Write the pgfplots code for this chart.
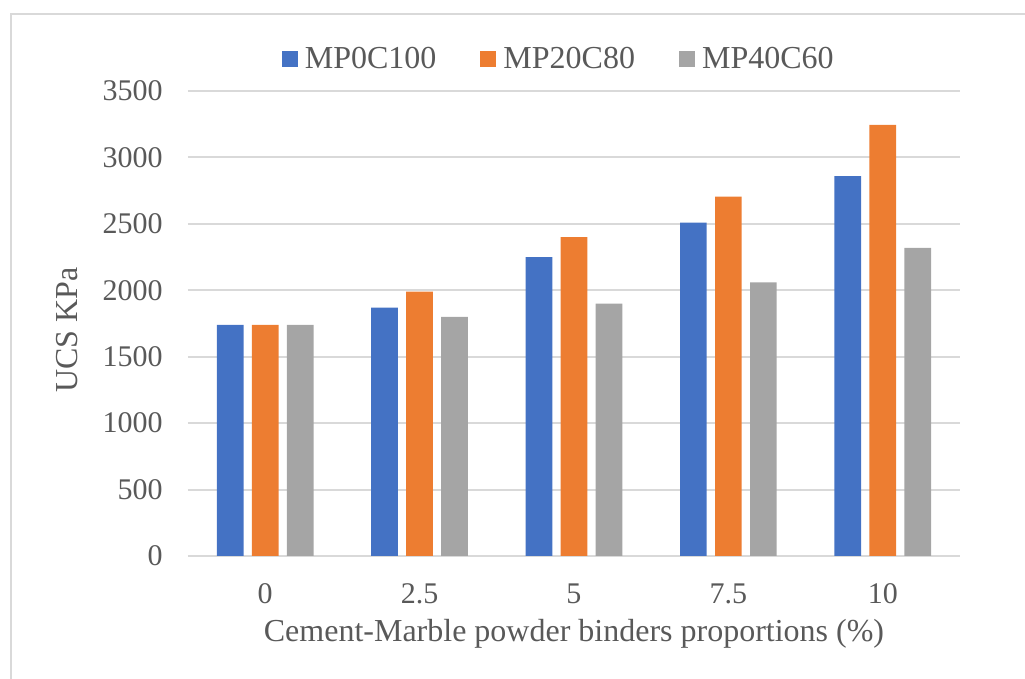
\documentclass[border=0pt]{standalone}
\usepackage{pgfplots}
\pgfplotsset{compat=1.18}
\usepackage{fontspec}
\setmainfont{Liberation Serif}

\definecolor{cblue}{HTML}{4472C4}
\definecolor{corange}{HTML}{ED7D31}
\definecolor{cgrey}{HTML}{A5A5A5}
\definecolor{txt}{HTML}{595959}
\definecolor{gridc}{HTML}{D9D9D9}

\pgfplotsset{
  sq legend/.style={legend image code/.code={\fill[##1] (0pt,-4pt) rectangle (8pt,4pt);}},
}

\begin{document}
\begin{tikzpicture}
\useasboundingbox (0,0) rectangle (512.5pt,-339.5pt);
\clip (0,0) rectangle (512.5pt,-339.5pt);
% chart frame
\draw[gridc, line width=1pt] (5.25pt,-7.25pt) rectangle (530pt,-360pt);
\begin{axis}[
  at={(94pt,-278pt)}, anchor=south west,
  scale only axis, width=386pt, height=232.5pt,
  xmin=-0.5, xmax=4.5, ymin=0, ymax=3500,
  xtick={0,...,4}, xticklabels={0,2.5,5,7.5,10},
  ytick={0,500,...,3500},
  ybar=4.15pt, bar width=13.35pt,
  axis line style={draw=none},
  major tick length=0pt,
  ymajorgrids, grid style={gridc, line width=1pt},
  /pgf/number format/assume math mode=true,
  /pgf/number format/1000 sep={},
  tick label style={font=\rmfamily\fontsize{15pt}{18pt}\selectfont, text=txt},
  yticklabel style={anchor=east, inner sep=0pt, xshift=-12.5pt},
  xticklabel style={anchor=north, inner sep=0pt, yshift=-13.5pt},
  xlabel={Cement-Marble powder binders proportions (\%)},
  ylabel={UCS KPa},
  xlabel style={at={(axis description cs:0.5,-0.168)}, anchor=center,
    font=\rmfamily\fontsize{16pt}{19pt}\selectfont, text=txt},
  ylabel style={at={(axis description cs:-0.1567,0.486)}, anchor=center,
    font=\rmfamily\fontsize{16pt}{19pt}\selectfont, text=txt},
  legend columns=3,
  legend style={at={(axis description cs:0.479,1.069)}, anchor=center,
    draw=none, fill=none, font=\rmfamily\fontsize{16pt}{19pt}\selectfont, text=txt,
    nodes={inner sep=0pt},
    /tikz/every odd column/.append style={column sep=3.5pt},
    /tikz/every even column/.append style={column sep=22pt}},
  legend cell align=left,
]
\addplot[fill=cblue, draw=none, sq legend] coordinates {(0,1740) (1,1870) (2,2250) (3,2510) (4,2860)};
\addplot[fill=corange, draw=none, sq legend] coordinates {(0,1740) (1,1990) (2,2400) (3,2705) (4,3245)};
\addplot[fill=cgrey, draw=none, sq legend] coordinates {(0,1740) (1,1800) (2,1900) (3,2060) (4,2320)};
\legend{MP0C100, MP20C80, MP40C60}
\end{axis}
\end{tikzpicture}
\end{document}
